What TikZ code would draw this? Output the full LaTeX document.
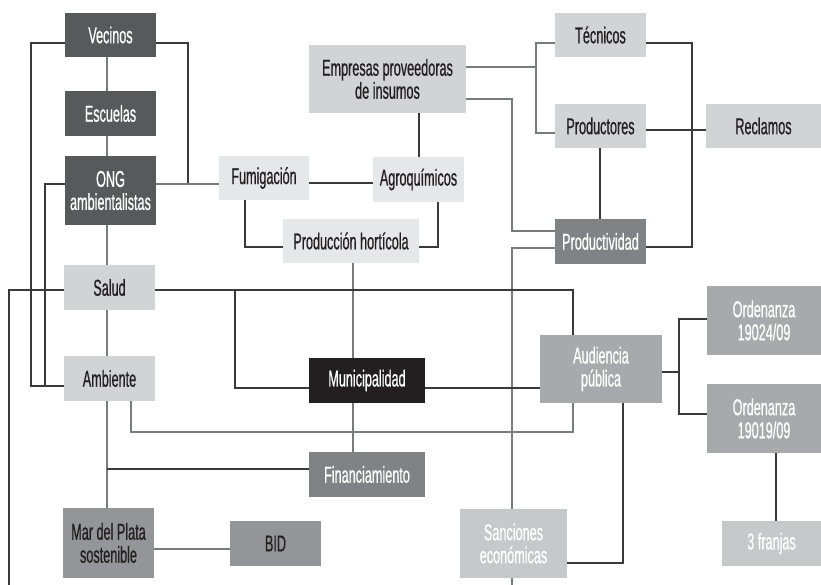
\documentclass[tikz,border=0pt]{standalone}
\usepackage{fontspec}
\setmainfont[FakeStretch=0.55,FakeBold=0.6]{Liberation Sans}
\definecolor{cdark}{HTML}{58595B}
\definecolor{clight}{HTML}{E6E7E8}
\definecolor{cmlight}{HTML}{D1D3D4}
\definecolor{cmid}{HTML}{808285}
\definecolor{cmid2}{HTML}{939598}
\definecolor{caud}{HTML}{A7A9AC}
\definecolor{csan}{HTML}{C7C8CA}
\definecolor{cblack}{HTML}{231F20}
\definecolor{cline}{HTML}{3A3A3C}
\definecolor{cgline}{HTML}{7A7B7E}
\pgfdeclarelayer{bg}
\pgfsetlayers{bg,main}
\tikzset{
  box/.style={inner sep=0pt, outer sep=0pt, align=center, draw=none,
    font=\fontsize{23}{23}\selectfont},
  darkbox/.style={box, fill=cdark, text=white},
  lightbox/.style={box, fill=clight, text=cblack},
  mlightbox/.style={box, fill=cmlight, text=cblack},
  midbox/.style={box, fill=cmid, text=white},
  mid2box/.style={box, fill=cmid2, text=cblack},
  audbox/.style={box, fill=caud, text=white},
  sanbox/.style={box, fill=csan, text=white},
  blackbox/.style={box, fill=cblack, text=white},
  conn/.style={draw=cline, line width=1.1pt},
  gconn/.style={draw=cgline, line width=1.3pt}
}
\begin{document}
\begin{tikzpicture}[x=1pt,y=-1pt]
\useasboundingbox (0,0) rectangle (821,585);
% nodes
\node[darkbox, minimum width=91, minimum height=44] (vec) at (110.5,35) {Vecinos};
\node[darkbox, minimum width=91, minimum height=45] (esc) at (110.5,113.5) {Escuelas};
\node[darkbox, minimum width=91, minimum height=69] (ong) at (110.5,190.5) {ONG\\ambientalistas};
\node[mlightbox, minimum width=91, minimum height=45] (sal) at (109.5,287.5) {Salud};
\node[mlightbox, minimum width=91, minimum height=45] (amb) at (109.5,378.5) {Ambiente};
\node[mid2box, minimum width=91, minimum height=70] (mdp) at (108.5,543) {Mar del Plata\\sostenible};
\node[mid2box, minimum width=91, minimum height=45] (bid) at (275.5,543.5) {BID};
\node[lightbox, minimum width=90, minimum height=44] (fum) at (264,178) {Fumigación};
\node[lightbox, minimum width=91, minimum height=45] (agr) at (418.5,179.5) {Agroquímicos};
\node[mlightbox, minimum width=157, minimum height=68] (emp) at (387.5,79) {Empresas proveedoras\\de insumos};
\node[lightbox, minimum width=136, minimum height=44] (pho) at (351,241) {Producción hortícola};
\node[blackbox, minimum width=116, minimum height=45] (mun) at (367,380.5) {Municipalidad};
\node[midbox, minimum width=116, minimum height=45] (fin) at (367,474.5) {Financiamiento};
\node[mlightbox, minimum width=91, minimum height=44] (tec) at (600.5,35) {Técnicos};
\node[mlightbox, minimum width=91, minimum height=44] (pro) at (600.5,126) {Productores};
\node[mlightbox, minimum width=115, minimum height=44] (rec) at (763.5,126) {Reclamos};
\node[midbox, minimum width=91, minimum height=45] (ptv) at (600.5,241.5) {Productividad};
\node[audbox, minimum width=122, minimum height=68] (aud) at (601,369) {Audiencia\\pública};
\node[audbox, minimum width=114, minimum height=69] (or1) at (764,320.5) {Ordenanza\\19024/09};
\node[audbox, minimum width=114, minimum height=69] (or2) at (764,418.5) {Ordenanza\\19019/09};
\node[sanbox, minimum width=99, minimum height=45] (fra) at (771.5,543.5) {3 franjas};
\node[sanbox, minimum width=107, minimum height=69] (san) at (513.5,543.5) {Sanciones\\económicas};
\coordinate (bl) at (9,585);
\coordinate (bm) at (512,585);
% connectors
\begin{pgfonlayer}{bg}
\fill[white] (0,0) rectangle (821,585);
\draw[gconn] (vec.south -| 107,0) -- (esc.north -| 107,0);
\draw[gconn] (esc.south -| 107,0) -- (ong.north -| 107,0);
\draw[gconn] (ong.south -| 107,0) -- (sal.north -| 107,0);
\draw[gconn] (sal.south -| 107,0) -- (amb.north -| 107,0);
\draw[gconn] (amb.south -| 107,0) -- (mdp.north -| 107,0);
\draw[conn] (107,469) -- (fin.west |- 0,469);
\draw[gconn] (mdp.east |- 0,549) -- (bid.west |- 0,549);
\draw[conn] (vec.west |- 0,43) -| (31,386) -- (amb.west |- 0,386);
\draw[conn] (ong.west |- 0,184) -| (45,386);
\draw[conn] (vec.east |- 0,43) -| (188,184);
\draw[gconn] (ong.east |- 0,184) -- (fum.west |- 0,184);
\draw[conn] (fum.east |- 0,183) -- (agr.west |- 0,183);
\draw[conn] (fum.south -| 245,0) |- (pho.west |- 0,247);
\draw[conn] (agr.south -| 438,0) |- (pho.east |- 0,247);
\draw[conn] (emp.south -| 419,0) -- (agr.north -| 419,0);
\draw[gconn] (pho.south -| 353,0) -- (mun.north -| 353,0);
\draw[gconn] (mun.south -| 353,0) -- (fin.north -| 353,0);
\draw[gconn] (emp.east |- 0,67) -- (536,67);
\draw[gconn] (tec.west |- 0,43) -| (536,133) -- (pro.west |- 0,133);
\draw[conn] (tec.east |- 0,43) -| (692,247) -- (ptv.east |- 0,247);
\draw[conn] (pro.east |- 0,130) -- (rec.west |- 0,130);
\draw[conn] (pro.south -| 600,0) -- (ptv.north -| 600,0);
\draw[gconn] (emp.east |- 0,99) -| (512,231) -- (ptv.west |- 0,231);
\draw[gconn] (ptv.west |- 0,248) -| (bm);
\draw[conn] (sal.west |- 0,290) -| (bl);
\draw[conn] (sal.east |- 0,290) -| (aud.north -| 573,0);
\draw[conn] (235,290) |- (mun.west |- 0,388);
\draw[conn] (mun.east |- 0,388) -- (aud.west |- 0,388);
\draw[gconn] (amb.south -| 131,0) |- (573,432) -- (aud.south -| 573,0);
\draw[conn] (aud.east |- 0,372) -- (679,372);
\draw[conn] (or1.west |- 0,319) -| (679,414) -- (or2.west |- 0,414);
\draw[conn] (or2.south -| 776,0) -- (fra.north -| 776,0);
\draw[conn] (aud.south -| 623,0) |- (san.east |- 0,563);
\end{pgfonlayer}
\end{tikzpicture}
\end{document}
